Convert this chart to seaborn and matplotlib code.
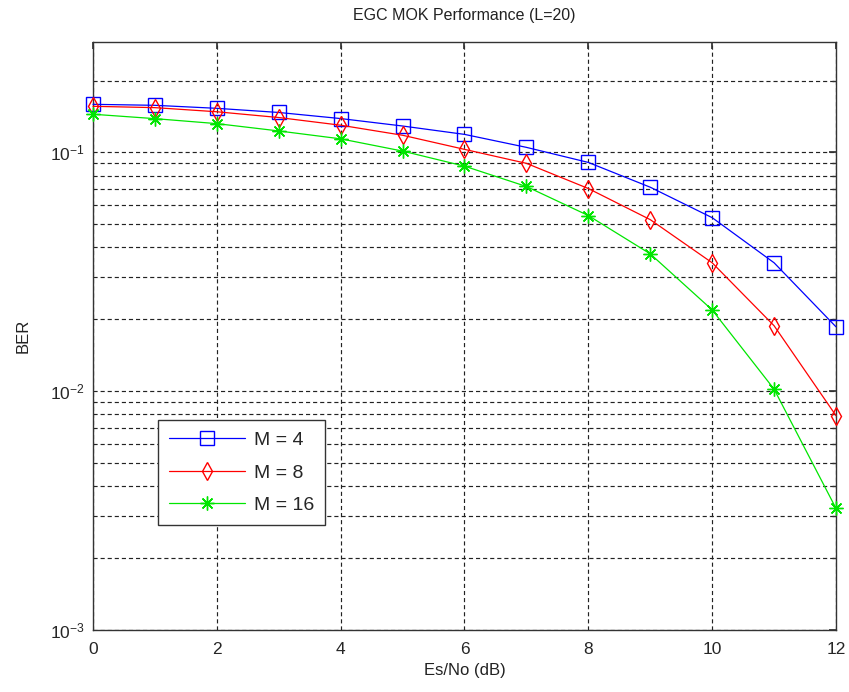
import numpy as np
import pandas as pd
import matplotlib
matplotlib.use("Agg")
import matplotlib.pyplot as plt
import seaborn as sns
from matplotlib.ticker import LogLocator, FixedLocator

snr_db = [0, 1, 2, 3, 4, 5, 6, 7, 8, 9, 10, 11, 12]
ber_m4 = [0.159, 0.1575, 0.153, 0.147, 0.1386, 0.129, 0.119, 0.105, 0.0908, 0.0715, 0.0533, 0.0345, 0.0186]
ber_m8 = [0.156, 0.154, 0.148, 0.140, 0.130, 0.118, 0.103, 0.090, 0.0706, 0.0523, 0.0345, 0.0188, 0.0079]
ber_m16 = [0.1445, 0.1385, 0.132, 0.123, 0.114, 0.1013, 0.0876, 0.072, 0.0544, 0.0376, 0.0219, 0.0102, 0.00323]
labels = ["M = 4", "M = 8", "M = 16"]
x_ticks = [0, 2, 4, 6, 8, 10, 12]

sns.set_theme(style="white")
plt.rcParams['font.family'] = ['Liberation Sans', 'DejaVu Sans']

fig = plt.figure(figsize=(8.49, 6.92), dpi=100)
ax = fig.add_axes([0.1095, 0.0896, 0.8752, 0.8497])

styles = [
    dict(color=(0, 0, 1), marker='s', markersize=10),
    dict(color=(1, 0, 0), marker='d', markersize=9),
    dict(color=(0, 0.9, 0), marker=(8, 2, 0), markersize=10),
]
for ys, lab, st in zip([ber_m4, ber_m8, ber_m16], labels, styles):
    df = pd.DataFrame({"x": snr_db, "y": ys})
    sns.lineplot(data=df, x="x", y="y", ax=ax, label=lab, color=st["color"],
                 marker=st["marker"], markersize=st["markersize"],
                 markerfacecolor='none', markeredgecolor=st["color"],
                 markeredgewidth=1.0, linewidth=0.9, clip_on=False, zorder=5)

ax.set_yscale('log')
ax.set_xlim(0, 12)
ax.set_ylim(1e-3, 0.29)
ax.xaxis.set_major_locator(FixedLocator(x_ticks))
ax.yaxis.set_major_locator(LogLocator(base=10, numticks=10))
ax.yaxis.set_minor_locator(LogLocator(base=10, subs=np.arange(2, 10), numticks=20))

gl = dict(color='#222222', linestyle=(0, (3.5, 2.5)), linewidth=0.85)
ax.grid(True, which='major', axis='both', **gl)
ax.grid(True, which='minor', axis='y', **gl)

ax.tick_params(which='both', direction='in', top=True, right=True, labelsize=12.5,
               color='#333333', length=5)
ax.tick_params(which='minor', length=3)
ax.tick_params(axis='x', pad=9)
ax.tick_params(axis='y', pad=6)
for sp in ax.spines.values():
    sp.set_color('#333333')
    sp.set_linewidth(1.0)

ax.set_xlabel("Es/No (dB)", fontsize=12, color='#222222', labelpad=4)
ax.set_ylabel("BER", fontsize=12, color='#222222', labelpad=14)
ax.set_title("EGC MOK Performance (L=20)", fontsize=11.5, color='#222222', pad=16)

leg = ax.legend(loc='lower left', bbox_to_anchor=(0.0875, 0.1786), borderaxespad=0,
                fontsize=14, fancybox=False, frameon=True, handlelength=3.9,
                labelspacing=0.78, borderpad=0.55, handletextpad=0.5)
leg.get_frame().set_edgecolor('#333333')
leg.get_frame().set_linewidth(1.0)
leg.get_frame().set_alpha(1)

fig.savefig("out.png", dpi=100)
